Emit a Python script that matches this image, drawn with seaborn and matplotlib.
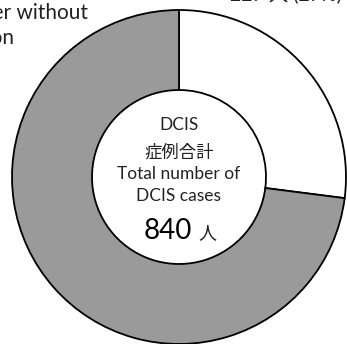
import matplotlib
matplotlib.use("Agg")
import matplotlib.pyplot as plt
import seaborn as sns

# ---------------------------------------------------------------
# Datos
# ---------------------------------------------------------------
categorias = ["DCIS without invasion", "Other DCIS"]
casos = [227, 613]
total_casos = 840
colores = ["#ffffff", "#9a9a9a"]

etiqueta_centro = ["DCIS", "症例合計", "Total number of", "DCIS cases"]
etiqueta_sup_der = "227 人 (27%)"
etiqueta_sup_izq = ["Breast cancer without", "invasion"]

# ---------------------------------------------------------------
# Estilo
# ---------------------------------------------------------------
sns.set_style("white")
plt.rcParams["font.family"] = ["Lato", "Noto Sans CJK JP", "DejaVu Sans"]

W, H = 347, 344
fig = plt.figure(figsize=(W / 100, H / 100), dpi=100)
ax = fig.add_axes([0, 0, 1, 1])

cx, cy = 179, H - 177
r_ext, r_int = 167, 87

ax.pie(casos, radius=r_ext, center=(cx, cy), startangle=90,
       counterclock=False, colors=colores,
       wedgeprops=dict(width=r_ext - r_int, edgecolor="black", linewidth=1.3))

ax.set_xlim(0, W)
ax.set_ylim(0, H)
ax.set_aspect("equal")
ax.axis("off")

# texto central
ys = [H - 125, H - 152, H - 174, H - 196]
for txt, y in zip(etiqueta_centro, ys):
    ax.text(cx, y, txt, ha="center", va="center", fontsize=12.5, color="#222222")
ax.text(cx - 11, H - 231, f"{total_casos}", ha="center", va="center", fontsize=20, color="black")
ax.text(cx + 28, H - 233, "人", ha="center", va="center", fontsize=13, color="#222222")

# etiquetas recortadas
ax.text(342, H - 1.5, etiqueta_sup_der, ha="right", va="baseline", fontsize=14, color="#222222")
ax.text(88, H - 19, etiqueta_sup_izq[0], ha="right", va="baseline", fontsize=15, color="#222222")
ax.text(15, H - 44, etiqueta_sup_izq[1], ha="right", va="baseline", fontsize=15, color="#222222")

fig.savefig("out.png", dpi=100)
